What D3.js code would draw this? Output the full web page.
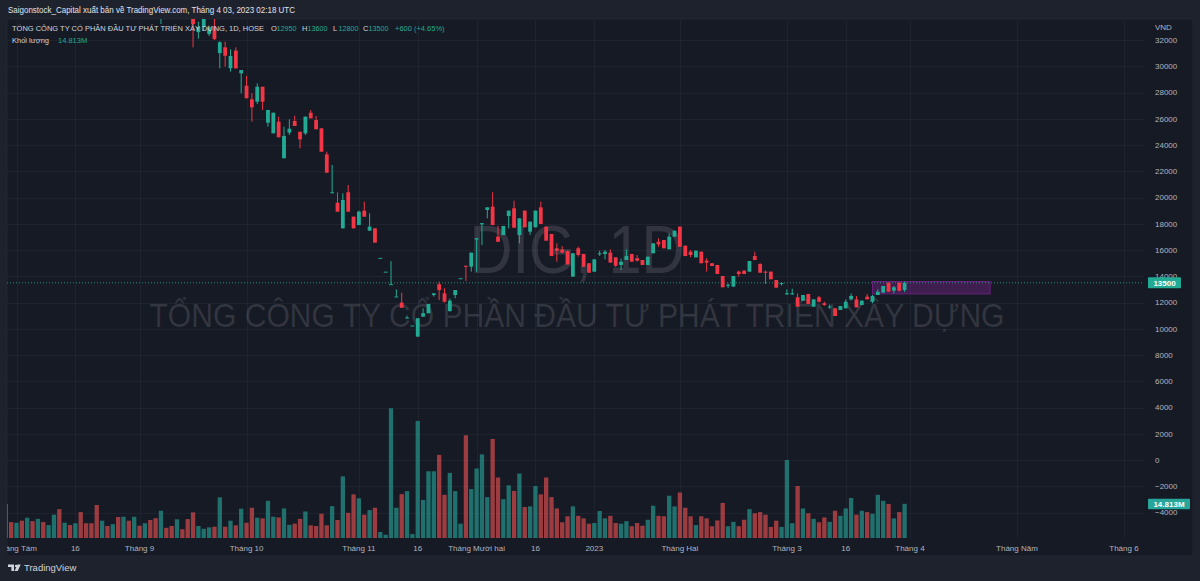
<!DOCTYPE html>
<meta charset="utf-8">
<style>
body { margin: 0; background: #1e222d; }
svg text { font-family: "Liberation Sans", Arial, sans-serif; }
</style>
<body>
<script src="https://d3js.org/d3.v7.min.js"></script>
<script>
var width = 1200, height = 581;

// ---- data (DIG, 1D, HOSE) ----
var firstDay = '2022-07-28';
var holidays = ['2022-09-01', '2022-09-02', '2023-01-02', '2023-01-20', '2023-01-23',
    '2023-01-24', '2023-01-25', '2023-01-26', '2023-05-01', '2023-05-02', '2023-05-03'];

var opens = [
    36500, 37000, 36500, 37200, 36800, 37600, 37200, 37800, 37400, 37700,
    38400, 37600, 37900, 37500, 37800, 36800, 36400, 36100, 35200, 35700,
    35400, 35800, 35100, 35700, 35300, 35800, 35500, 35800, 35300, 34800,
    35400, 35000, 34600, 35100, 34800, 34200, 32600, 33000, 32460, 32970,
    31000, 31440, 29840, 31190, 29460, 28520, 27480, 27300, 28440, 25700,
    24890, 25780, 22990, 24940, 25830, 25010, 24890, 26460, 25900, 25270,
    23290, 20380, 19600, 17650, 20400, 18540, 17900, 18990, 17470, 17650,
    15400, 14350, 13350, 12440, 11990, 10800, 10250, 9400, 10920, 11180,
    12570, 13390, 12700, 11350, 12570, 13850, 14800, 14730, 16800, 17950,
    19050, 19300, 17020, 17140, 18590, 19180, 17140, 19000, 17400, 17730,
    19250, 17780, 17220, 16130, 16030, 15920, 13970, 16130, 15700, 14990,
    14350, 15700, 15700, 15800, 15440, 14860, 15240, 15700, 15370, 15240,
    14860, 15750, 16630, 16760, 16050, 17020, 17780, 16330, 15870, 15440,
    15870, 15190, 14990, 14860, 14020, 13330, 13210, 14350, 14430, 14350,
    15540, 14930, 14350, 14350, 13710, 13400, 12650, 12650, 12400, 12140,
    12650, 11680, 12400, 11940, 11680, 11560, 11430, 11560, 12240, 12240,
    11810, 12440, 12060, 12570, 12750, 13510, 12900, 13510, 12950];
var highs = [
    37200, 37300, 37400, 37500, 37800, 37900, 38000, 38100, 37900, 38600,
    38800, 38000, 38100, 38000, 38000, 37100, 36700, 36300, 35900, 35900,
    35900, 36000, 35900, 35900, 36000, 36000, 36000, 36000, 35500, 35600,
    35600, 35200, 35300, 35200, 35000, 34400, 33400, 33700, 33100, 33600,
    31900, 31870, 31290, 31440, 29710, 29260, 27940, 28700, 28440, 26670,
    26460, 26160, 25390, 25960, 26230, 25010, 26160, 26670, 26210, 25270,
    23490, 22480, 20400, 20320, 20950, 18540, 19000, 19680, 18800, 17650,
    15400, 14350, 15150, 13000, 12750, 11000, 10250, 10800, 11560, 11890,
    12700, 13590, 13080, 12300, 12950, 13850, 14800, 15800, 16900, 18050,
    19250, 20400, 17830, 17830, 19000, 19760, 18410, 19000, 18160, 19000,
    19680, 17780, 17220, 16510, 16300, 15950, 15750, 16250, 15700, 14990,
    15290, 15950, 16000, 16050, 15440, 15350, 16050, 15700, 15620, 15240,
    15490, 16510, 16890, 16760, 17270, 17470, 17780, 16330, 16000, 15950,
    15870, 15370, 14990, 14860, 14020, 13460, 14020, 14430, 14430, 15160,
    15870, 14990, 14430, 14350, 13710, 13550, 13000, 13050, 12700, 12570,
    12650, 12240, 12500, 12060, 11850, 11560, 11730, 12240, 12690, 12500,
    12140, 12650, 12570, 13010, 13260, 13510, 13260, 13510, 13600];
var lows = [
    36200, 36300, 36300, 36600, 36700, 37000, 37000, 37200, 37100, 37500,
    37400, 37300, 37300, 37200, 36600, 36200, 35900, 34900, 35000, 35200,
    35200, 34900, 34900, 35100, 35100, 35400, 35300, 35100, 34600, 33220,
    34900, 34400, 34300, 34700, 34000, 31440, 32100, 32700, 32300, 32000,
    29840, 29970, 29590, 29840, 27940, 27560, 25780, 27120, 26670, 25390,
    24890, 24590, 22990, 24760, 25450, 23750, 24760, 26030, 25200, 23490,
    21890, 20330, 18920, 17650, 18920, 17650, 17900, 18540, 17470, 16560,
    15400, 14350, 13350, 12440, 11600, 10780, 10250, 9400, 10920, 11180,
    12450, 12190, 12000, 11300, 12320, 13850, 13640, 14350, 14350, 16380,
    18410, 17900, 16630, 17140, 17650, 17700, 16510, 17730, 17150, 17730,
    17980, 16710, 15540, 15110, 15750, 14900, 13970, 15500, 14730, 14270,
    14350, 15550, 15290, 15040, 14700, 14480, 15240, 15110, 15110, 14860,
    14860, 15750, 16250, 16130, 16050, 17020, 16250, 15540, 15440, 15440,
    14990, 14350, 14780, 14170, 13160, 13100, 13210, 13970, 14170, 14350,
    15240, 14270, 13410, 13770, 13130, 13300, 12570, 12570, 11680, 12140,
    11890, 11680, 12000, 11750, 11500, 10970, 11430, 11560, 12150, 11630,
    11810, 12240, 11940, 12570, 12750, 12820, 12700, 12820, 12800];
var closes = [
    37000, 36500, 37200, 36800, 37600, 37200, 37800, 37400, 37700, 38400,
    37600, 37900, 37500, 37800, 36800, 36400, 36100, 35200, 35700, 35400,
    35800, 35100, 35700, 35300, 35800, 35500, 35800, 35300, 34800, 35400,
    35000, 34600, 35100, 34800, 34200, 33220, 33000, 33600, 32970, 32080,
    31830, 30800, 30780, 29840, 29710, 27560, 26870, 28440, 27300, 26670,
    26460, 24590, 24690, 25240, 25450, 24430, 26160, 26030, 25200, 23490,
    21890, 20400, 18920, 19810, 18920, 17650, 18920, 18540, 17780, 16560,
    15400, 14350, 13400, 12460, 11600, 10850, 10250, 10800, 11180, 11890,
    12700, 12950, 12060, 12140, 12950, 13850, 14750, 15800, 16900, 18050,
    19250, 17900, 16630, 17830, 19000, 17700, 18410, 17730, 18160, 19000,
    17980, 16710, 15540, 15950, 15800, 14900, 15750, 15620, 14730, 14270,
    15290, 15750, 15870, 15040, 14800, 15110, 15540, 15110, 15190, 14860,
    15490, 16510, 16430, 16130, 17020, 17470, 16250, 15540, 15620, 15950,
    14990, 15040, 14780, 14170, 13160, 13350, 14020, 14170, 14170, 15160,
    15240, 14270, 14270, 13770, 13130, 13480, 12700, 12700, 11680, 12570,
    11890, 12240, 12060, 11810, 11700, 10970, 11730, 12060, 12500, 11630,
    12140, 12240, 12500, 12820, 13260, 12820, 13160, 12900, 13500];
// volume, millions of shares
var volumes = [
    14.7, 6.9, 6.6, 7.5, 8.8, 7.3, 8.3, 6.9, 5.6, 10.1,
    12.5, 6.6, 5.6, 6.4, 11.2, 6.4, 6.4, 14.3, 7.5, 5.2,
    6.0, 9.1, 9.2, 7.5, 9.2, 5.3, 6.4, 7.8, 8.6, 11.8,
    4.4, 5.2, 8.1, 3.8, 8.2, 11.1, 5.2, 4.0, 4.6, 4.9,
    17.6, 4.9, 7.5, 5.5, 12.7, 6.6, 13.1, 8.8, 8.5, 16.1,
    9.2, 8.9, 12.8, 5.7, 6.2, 8.3, 11.5, 5.5, 5.2, 10.5,
    5.5, 13.8, 7.8, 26.7, 10.9, 18.9, 17.2, 10.1, 12.1, 13.1,
    2.6, 1.4, 56.2, 13.1, 19.0, 20.3, 1.7, 50.7, 16.5, 28.9,
    28.9, 36.0, 18.7, 28.2, 20.3, 6.2, 44.5, 21.2, 30.1, 36.2,
    17.7, 42.9, 26.2, 16.8, 22.8, 20.4, 27.9, 13.4, 13.7, 22.5,
    18.9, 26.2, 17.7, 12.8, 6.8, 9.4, 13.7, 9.6, 8.5, 6.2,
    6.5, 11.7, 8.5, 9.6, 6.5, 6.2, 7.3, 5.1, 6.5, 5.3,
    7.9, 14.0, 9.6, 9.4, 18.3, 13.7, 19.7, 13.1, 9.4, 5.6,
    9.4, 8.5, 5.1, 7.6, 15.2, 5.1, 7.0, 5.1, 7.9, 12.5,
    10.7, 11.2, 10.1, 4.8, 7.5, 4.8, 33.8, 6.4, 22.5, 12.8,
    10.7, 8.3, 6.8, 8.9, 7.0, 11.8, 9.6, 12.8, 17.3, 10.1,
    11.8, 11.2, 10.5, 18.7, 16.1, 14.7, 8.5, 11.2, 14.813];

var priceTicks = [32000, 30000, 28000, 26000, 24000, 22000, 20000, 18000, 16000,
    14000, 12000, 10000, 8000, 6000, 4000, 2000, 0, -2000, -4000];
var timeTickDates = ['2022-08-01', '2022-08-16', '2022-09-05', '2022-10-03', '2022-11-01',
    '2022-11-16', '2022-12-01', '2022-12-16', '2023-01-03', '2023-02-01', '2023-03-01',
    '2023-03-16', '2023-04-03', '2023-05-04', '2023-06-01'];
var timeTickLabels = ['Tháng Tám', '16', 'Tháng 9', 'Tháng 10', 'Tháng 11', '16',
    'Tháng Mười hai', '16', '2023', 'Tháng Hai', 'Tháng 3', '16', 'Tháng 4', 'Tháng Năm', 'Tháng 6'];
var boxDates = ['2023-03-23', '2023-04-24'], boxPrices = [13600, 12650];

// ---- layout ----
var pane = {left: 7, right: 1143, top: 19, bottom: 538};
var upColor = '#22ab94', downColor = '#f23645';
var upVol = 'rgba(38,166,154,0.62)', downVol = 'rgba(239,83,80,0.62)';
var textColor = '#b2b5be', gridColor = '#1f2330';

var fmt = d3.utcFormat('%Y-%m-%d');
var days = d3.utcDays(new Date(firstDay + 'T00:00:00Z'), new Date('2023-07-01T00:00:00Z'))
    .filter(function(d) { return d.getUTCDay() % 6 !== 0 && holidays.indexOf(fmt(d)) < 0; })
    .map(fmt);
var dayIndex = new Map(days.map(function(d, i) { return [d, i]; }));

var n = closes.length;
var x = d3.scaleLinear().domain([0, n - 1]).range([5.8, 904.6]);
var y = d3.scaleLinear().domain([0, 32000]).range([460, 40]);
var vy = d3.scaleLinear().domain([0, 14.813]).range([pane.bottom, 503.8]);

var svg = d3.select('body').append('svg')
    .attr('width', width).attr('height', height);

svg.append('rect').attr('width', width).attr('height', height).attr('fill', '#1e222d');
svg.append('rect')
    .attr('x', pane.left).attr('y', pane.top)
    .attr('width', 1193 - pane.left).attr('height', 556 - pane.top)
    .attr('fill', '#161a25').attr('stroke', '#2a2e39').attr('stroke-width', 0.6);

svg.append('defs').append('clipPath').attr('id', 'pane')
  .append('rect')
    .attr('x', pane.left).attr('y', pane.top)
    .attr('width', pane.right - pane.left).attr('height', pane.bottom - pane.top);

// grid
var grid = svg.append('g').attr('clip-path', 'url(#pane)');
grid.selectAll('.hgrid').data(priceTicks).enter().append('line')
    .attr('x1', pane.left).attr('x2', pane.right)
    .attr('y1', function(d) { return Math.round(y(d)) + 0.5; })
    .attr('y2', function(d) { return Math.round(y(d)) + 0.5; })
    .attr('stroke', gridColor).attr('stroke-width', 1);
grid.selectAll('.vgrid').data(timeTickDates).enter().append('line')
    .attr('x1', function(d) { return Math.round(x(dayIndex.get(d))) + 0.5; })
    .attr('x2', function(d) { return Math.round(x(dayIndex.get(d))) + 0.5; })
    .attr('y1', pane.top).attr('y2', pane.bottom)
    .attr('stroke', gridColor).attr('stroke-width', 1);

// watermark
var wm = svg.append('g').attr('fill', 'rgba(255,255,255,0.12)').attr('text-anchor', 'middle');
wm.append('text').attr('x', 577).attr('y', 273).attr('font-size', 68)
    .attr('textLength', 215).attr('lengthAdjust', 'spacingAndGlyphs')
    .text('DIG, 1D');
wm.append('text').attr('x', 577).attr('y', 327).attr('font-size', 33)
    .attr('textLength', 855).attr('lengthAdjust', 'spacingAndGlyphs')
    .text('TỔNG CÔNG TY CỔ PHẦN ĐẦU TƯ PHÁT TRIỂN XÂY DỰNG');

var plot = svg.append('g').attr('clip-path', 'url(#pane)');
var idx = d3.range(n);

// volume
plot.selectAll('.vol').data(idx).enter().append('rect')
    .attr('x', function(i) { return x(i) - 2.15; })
    .attr('width', 4.3)
    .attr('y', function(i) { return vy(volumes[i]); })
    .attr('height', function(i) { return pane.bottom - vy(volumes[i]); })
    .attr('fill', function(i) { return closes[i] >= opens[i] ? upVol : downVol; });

// purple zone
plot.append('rect')
    .attr('x', x(dayIndex.get(boxDates[0])))
    .attr('width', x(dayIndex.get(boxDates[1])) - x(dayIndex.get(boxDates[0])))
    .attr('y', y(boxPrices[0]))
    .attr('height', y(boxPrices[1]) - y(boxPrices[0]))
    .attr('fill', 'rgba(156,39,176,0.3)')
    .attr('stroke', 'rgba(156,39,176,0.55)').attr('stroke-width', 1);

// last price line
plot.append('line')
    .attr('x1', pane.left).attr('x2', pane.right)
    .attr('y1', y(closes[n - 1])).attr('y2', y(closes[n - 1]))
    .attr('stroke', upColor).attr('stroke-opacity', 0.8)
    .attr('stroke-width', 1).attr('stroke-dasharray', '1,2');

// candles
var candle = plot.selectAll('.candle').data(idx).enter().append('g')
    .attr('fill', function(i) { return closes[i] >= opens[i] ? upColor : downColor; })
    .attr('stroke', function(i) { return closes[i] >= opens[i] ? upColor : downColor; });
candle.append('line')
    .attr('x1', function(i) { return x(i); }).attr('x2', function(i) { return x(i); })
    .attr('y1', function(i) { return y(highs[i]); })
    .attr('y2', function(i) { return y(lows[i]); })
    .attr('stroke-width', 1);
candle.append('rect')
    .attr('stroke', 'none')
    .attr('x', function(i) { return x(i) - 1.9; })
    .attr('width', 3.8)
    .attr('y', function(i) { return y(Math.max(opens[i], closes[i])); })
    .attr('height', function(i) { return Math.max(1, Math.abs(y(opens[i]) - y(closes[i]))); });

// price axis
var pa = svg.append('g').attr('font-size', 8).attr('fill', textColor);
pa.selectAll('.pt').data(priceTicks).enter().append('text')
    .attr('x', 1155).attr('y', function(d) { return y(d); }).attr('dy', '0.35em')
    .text(function(d) { return d < 0 ? '\u2212' + Math.abs(d) : d; });
pa.append('text').attr('x', 1155).attr('y', 27).attr('dy', '0.35em').text('VND');

// last price / last volume labels
svg.append('rect').attr('x', 1148).attr('y', y(closes[n - 1]) - 5.5)
    .attr('width', 33).attr('height', 11).attr('rx', 1).attr('fill', upColor);
svg.append('text').attr('x', 1164.5).attr('y', y(closes[n - 1])).attr('dy', '0.35em')
    .attr('text-anchor', 'middle').attr('font-size', 8).attr('font-weight', 'bold')
    .attr('fill', '#fff').text(d3.format('d')(closes[n - 1]));
svg.append('rect').attr('x', 1148).attr('y', vy(volumes[n - 1]) - 5)
    .attr('width', 42).attr('height', 10.5).attr('rx', 1).attr('fill', '#26a69a');
svg.append('text').attr('x', 1169).attr('y', vy(volumes[n - 1]) + 0.3).attr('dy', '0.35em')
    .attr('text-anchor', 'middle').attr('font-size', 8).attr('font-weight', 'bold')
    .attr('fill', '#fff').text(volumes[n - 1].toFixed(3) + 'M');

// time axis
svg.append('g').attr('font-size', 8).attr('fill', textColor).attr('text-anchor', 'middle')
  .selectAll('text').data(timeTickDates).enter().append('text')
    .attr('x', function(d) { return x(dayIndex.get(d)); })
    .attr('y', 548).attr('dy', '0.35em')
    .text(function(d, i) { return timeTickLabels[i]; });
// the first label runs off the frame edge, as in the snapshot
svg.append('rect').attr('x', 0).attr('y', 538).attr('width', pane.left).attr('height', 20).attr('fill', '#1e222d');

// header + legend
svg.append('text').attr('x', 8).attr('y', 10).attr('dy', '0.35em')
    .attr('font-size', 8.5).attr('fill', '#e0e3eb')
    .attr('textLength', 287).attr('lengthAdjust', 'spacingAndGlyphs')
    .text('Saigonstock_Capital xuất bản về TradingView.com, Tháng 4 03, 2023 02:18 UTC');

var last = n - 1, chg = closes[last] - closes[last - 1];
var legend = svg.append('g').attr('font-size', 7.5);
legend.append('text').attr('x', 12).attr('y', 28.5).attr('dy', '0.35em').attr('fill', '#d1d4dc')
    .attr('textLength', 252).attr('lengthAdjust', 'spacingAndGlyphs')
    .text('TỔNG CÔNG TY CỔ PHẦN ĐẦU TƯ PHÁT TRIỂN XÂY DỰNG, 1D, HOSE');
var ohlc = [['O', opens[last], 271], ['H', highs[last], 302], ['L', lows[last], 333], ['C', closes[last], 363]];
ohlc.forEach(function(o) {
    legend.append('text').attr('x', o[2]).attr('y', 28.5).attr('dy', '0.35em')
        .attr('fill', '#d1d4dc').text(o[0]);
    legend.append('text').attr('x', o[2] + 5.5).attr('y', 28.5).attr('dy', '0.35em')
        .attr('fill', upColor).attr('textLength', 20).attr('lengthAdjust', 'spacingAndGlyphs')
        .text(o[1]);
});
legend.append('text').attr('x', 395).attr('y', 28.5).attr('dy', '0.35em').attr('fill', upColor)
    .text('+' + chg + ' (+' + (chg / closes[last - 1] * 100).toFixed(2) + '%)');
legend.append('text').attr('x', 12).attr('y', 40).attr('dy', '0.35em').attr('fill', '#d1d4dc').text('Khối lượng');
legend.append('text').attr('x', 58).attr('y', 40).attr('dy', '0.35em').attr('fill', upColor)
    .text(volumes[last].toFixed(3) + 'M');

// footer logo
var logo = svg.append('g').attr('fill', '#d1d4dc');
logo.append('path').attr('d', 'M8,564.5h6v6.5h-2.6v-4h-3.4z');
logo.append('circle').attr('cx', 16.2).attr('cy', 566).attr('r', 1.3);
logo.append('path').attr('d', 'M17.5,564.5h3.2l-3,6.5h-3.2z');
logo.append('text').attr('x', 24).attr('y', 567.5).attr('dy', '0.35em')
    .attr('font-size', 9.5).text('TradingView');
</script>
</body>
</html>
